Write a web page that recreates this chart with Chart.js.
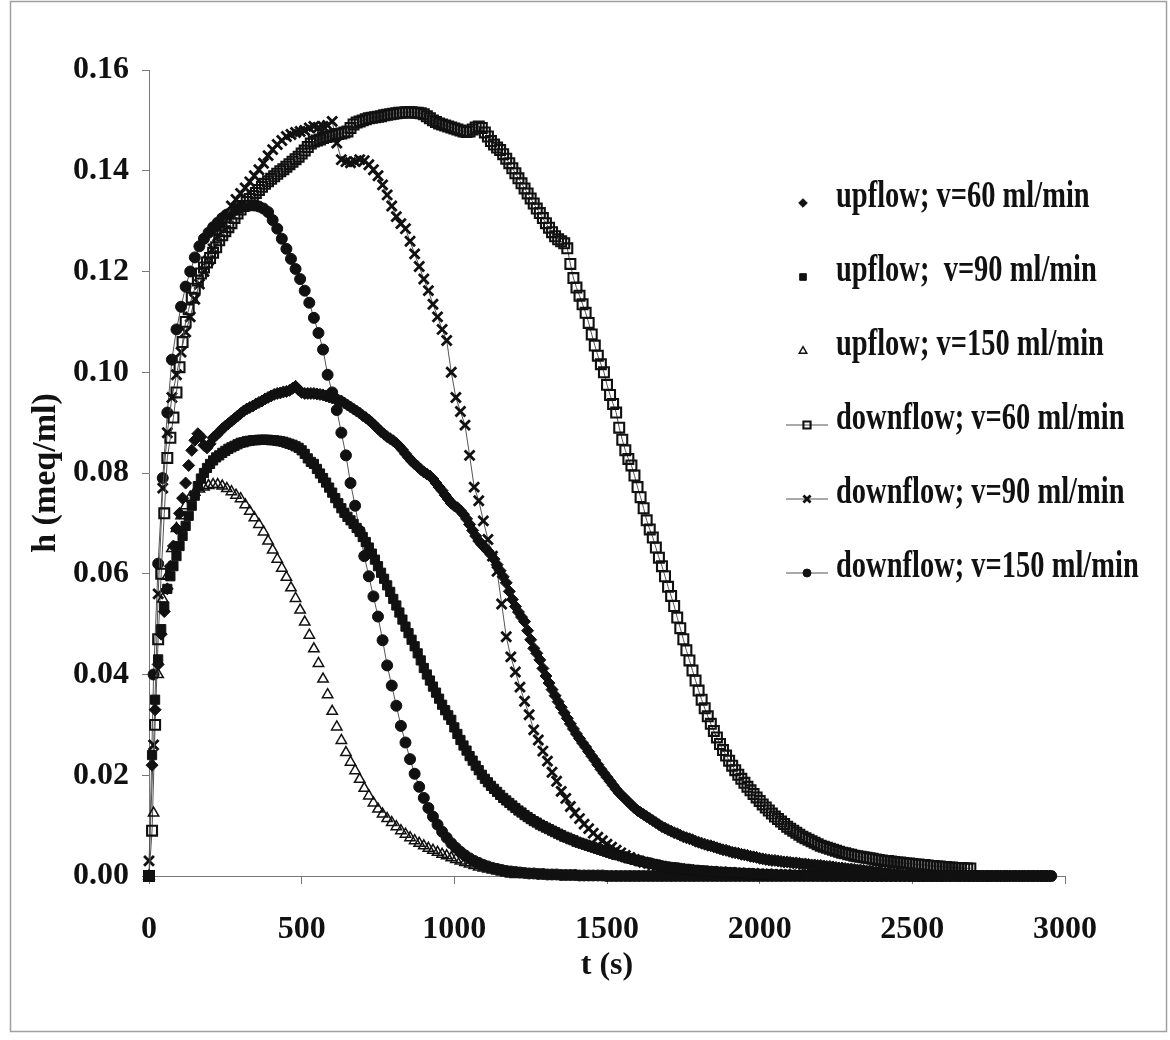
<!DOCTYPE html>
<html>
<head>
<meta charset="utf-8">
<title>h (meq/ml) vs t (s)</title>
<script src="https://cdn.jsdelivr.net/npm/chart.js@4.4.1/dist/chart.umd.min.js"></script>
<style>
  html, body { margin: 0; padding: 0; background: #fff; }
  #canvas { display: block; }
</style>
</head>
<body>
<canvas id="canvas" width="1170" height="1040"></canvas>
<script>
const canvas = document.getElementById("canvas");

// sampling interval of each run (s)
const stepUp60 = 10;
const stepUp90 = 10;
const stepUp150 = 15;
const stepDown60 = 10;
const stepDown90 = 15;
const stepDown150 = 15;

// h (meq/ml), one value per sample, starting at t = 0
const upflow60 = [
  0, 0.022, 0.033, 0.042, 0.048, 0.0525, 0.057, 0.0615, 0.0655, 0.069,
  0.072, 0.075, 0.078, 0.0815, 0.0845, 0.0865, 0.0878, 0.0872, 0.0855, 0.085,
  0.0858, 0.087, 0.0875, 0.0881, 0.0888, 0.0893, 0.0898, 0.0903, 0.0908, 0.0913,
  0.0918, 0.0923, 0.0927, 0.093, 0.0933, 0.0937, 0.094, 0.0943, 0.0947, 0.095,
  0.0953, 0.0956, 0.0958, 0.0959, 0.0961, 0.0962, 0.0964, 0.0968, 0.0972, 0.0965,
  0.096, 0.0958, 0.0958, 0.0958, 0.0958, 0.0957, 0.0956, 0.0955, 0.0953, 0.0951,
  0.0949, 0.0947, 0.0945, 0.0943, 0.0939, 0.0935, 0.0931, 0.0927, 0.0923, 0.0919,
  0.0914, 0.091, 0.0905, 0.09, 0.0894, 0.0888, 0.0882, 0.0877, 0.0872, 0.0868,
  0.0864, 0.0859, 0.0853, 0.0846, 0.0838, 0.0831, 0.0824, 0.0818, 0.0813, 0.0807,
  0.0802, 0.0798, 0.0794, 0.0788, 0.078, 0.0772, 0.0765, 0.0756, 0.0748, 0.074,
  0.0735, 0.0731, 0.0725, 0.0718, 0.0709, 0.0698, 0.0686, 0.0675, 0.0665, 0.0658,
  0.0652, 0.0645, 0.0638, 0.0629, 0.0618, 0.0606, 0.0594, 0.0582, 0.0565, 0.0549,
  0.0535, 0.0524, 0.0514, 0.0505, 0.0487, 0.0469, 0.0452, 0.0442, 0.0429, 0.0412,
  0.0397, 0.0383, 0.037, 0.0358, 0.0346, 0.0335, 0.0324, 0.0313, 0.0302, 0.0292,
  0.0282, 0.0273, 0.0264, 0.0256, 0.0247, 0.0238, 0.023, 0.0221, 0.0212, 0.0204,
  0.0196, 0.0188, 0.018, 0.0172, 0.0165, 0.0159, 0.0153, 0.0147, 0.0141, 0.0135,
  0.013, 0.0126, 0.0122, 0.0118, 0.0114, 0.011, 0.0106, 0.0102, 0.0098, 0.0095,
  0.0092, 0.0089, 0.0086, 0.0084, 0.0081, 0.0078, 0.0076, 0.0074, 0.0072, 0.0069,
  0.0067, 0.0065, 0.0063, 0.0061, 0.006, 0.0058, 0.0056, 0.0054, 0.0052, 0.0051,
  0.0049, 0.0047, 0.0046, 0.0045, 0.0043, 0.0042, 0.0041, 0.0039, 0.0038, 0.0037,
  0.0035, 0.0034, 0.0033, 0.0032, 0.0031, 0.0031, 0.003, 0.0029, 0.0028, 0.0028,
  0.0027, 0.0026, 0.0026, 0.0025, 0.0024, 0.0024, 0.0023, 0.0022, 0.0022, 0.0021,
  0.0021, 0.002, 0.0019, 0.0019, 0.0018, 0.0017, 0.0016, 0.0016, 0.0015, 0.0014,
  0.0014, 0.0013, 0.0012, 0.0012, 0.0011, 0.001, 0.001, 0.0009, 0.0008, 0.0008,
  0.0007, 0.0006, 0.0006, 0.0005, 0.0004, 0.0004, 0.0003, 0.0002, 0.0002, 0.0001,
  0, 0, 0, 0, 0, 0, 0, 0, 0, 0,
  0, 0, 0, 0, 0, 0, 0, 0, 0, 0,
  0, 0, 0, 0, 0, 0, 0, 0, 0, 0,
  0, 0, 0, 0, 0, 0, 0, 0, 0, 0,
  0, 0, 0, 0, 0, 0
];

const upflow90 = [
  0, 0.024, 0.035, 0.043, 0.049, 0.0535, 0.057, 0.0595, 0.0615, 0.0635,
  0.0655, 0.0675, 0.0695, 0.0715, 0.0735, 0.0755, 0.0774, 0.0789, 0.08, 0.081,
  0.0818, 0.0825, 0.0831, 0.0835, 0.084, 0.0844, 0.0848, 0.0851, 0.0854, 0.0857,
  0.086, 0.0861, 0.0863, 0.0864, 0.0865, 0.0865, 0.0866, 0.0866, 0.0866, 0.0866,
  0.0865, 0.0865, 0.0864, 0.0863, 0.0862, 0.086, 0.0858, 0.0856, 0.0853, 0.085,
  0.0845, 0.0838, 0.0829, 0.0822, 0.0818, 0.0808, 0.0799, 0.079, 0.0781, 0.0771,
  0.0761, 0.075, 0.074, 0.073, 0.0721, 0.0713, 0.0706, 0.0699, 0.0691, 0.0683,
  0.0673, 0.0663, 0.0652, 0.064, 0.0628, 0.0615, 0.0602, 0.059, 0.0577, 0.0564,
  0.055, 0.0537, 0.0523, 0.0509, 0.0495, 0.0482, 0.0469, 0.0456, 0.0442, 0.0428,
  0.0413, 0.04, 0.0388, 0.0376, 0.0364, 0.0352, 0.034, 0.0329, 0.0319, 0.031,
  0.0295, 0.0282, 0.027, 0.0259, 0.0249, 0.0238, 0.0229, 0.0219, 0.021, 0.0201,
  0.0193, 0.0186, 0.0179, 0.0173, 0.0167, 0.0161, 0.0155, 0.015, 0.0145, 0.014,
  0.0135, 0.013, 0.0126, 0.0121, 0.0117, 0.0113, 0.0109, 0.0106, 0.0102, 0.0099,
  0.0096, 0.0093, 0.009, 0.0087, 0.0084, 0.0081, 0.0078, 0.0076, 0.0073, 0.0071,
  0.0068, 0.0066, 0.0064, 0.0062, 0.006, 0.0058, 0.0056, 0.0054, 0.0052, 0.005,
  0.0048, 0.0046, 0.0044, 0.0042, 0.0041, 0.0039, 0.0037, 0.0035, 0.0034, 0.0032,
  0.0031, 0.0029, 0.0028, 0.0027, 0.0025, 0.0024, 0.0023, 0.0021, 0.002, 0.0019,
  0.0018, 0.0017, 0.0017, 0.0016, 0.0015, 0.0014, 0.0014, 0.0013, 0.0012, 0.0012,
  0.0011, 0.0011, 0.001, 0.001, 0.0009, 0.0009, 0.0008, 0.0008, 0.0008, 0.0007,
  0.0007, 0.0007, 0.0006, 0.0006, 0.0006, 0.0005, 0.0005, 0.0005, 0.0004, 0.0004,
  0.0004, 0.0003, 0.0003, 0.0003, 0.0003, 0.0002, 0.0002, 0.0002, 0.0002, 0.0002,
  0.0002, 0.0001, 0.0001, 0.0001, 0.0001, 0.0001, 0.0001, 0.0001, 0.0001, 0.0001,
  0, 0, 0, 0, 0, 0, 0, 0, 0, 0,
  0, 0, 0, 0, 0, 0, 0, 0, 0, 0,
  0, 0, 0, 0, 0, 0, 0, 0, 0, 0,
  0, 0, 0, 0, 0, 0, 0, 0, 0, 0,
  0, 0, 0, 0, 0, 0, 0, 0, 0, 0,
  0, 0, 0, 0, 0, 0, 0, 0, 0, 0,
  0, 0, 0, 0, 0, 0, 0, 0, 0, 0,
  0, 0, 0, 0, 0, 0
];

const upflow150 = [
  0, 0.0125, 0.04, 0.055, 0.0595, 0.065, 0.069, 0.0715, 0.0735, 0.0752,
  0.0762, 0.0768, 0.0772, 0.0775, 0.0777, 0.0777, 0.0774, 0.0769, 0.0763, 0.0756,
  0.0749, 0.0737, 0.0724, 0.0711, 0.0698, 0.0683, 0.0665, 0.0647, 0.0629, 0.0611,
  0.0593, 0.0572, 0.0551, 0.0528, 0.0504, 0.0478, 0.0451, 0.0422, 0.0391, 0.036,
  0.0327, 0.0296, 0.0269, 0.0245, 0.0226, 0.0209, 0.0192, 0.0174, 0.0159, 0.0145,
  0.0133, 0.0123, 0.0114, 0.0106, 0.0098, 0.009, 0.0083, 0.0076, 0.007, 0.0065,
  0.006, 0.0055, 0.0051, 0.0047, 0.0043, 0.004, 0.0036, 0.0033, 0.003, 0.0027,
  0.0024, 0.0021, 0.0018, 0.0016, 0.0014, 0.0012, 0.001, 0.0008, 0.0006, 0.0004,
  0.0003
];

const downflow60 = [
  0, 0.009, 0.03, 0.047, 0.06, 0.072, 0.083, 0.087, 0.091, 0.096,
  0.101, 0.106, 0.11, 0.1125, 0.1148, 0.1166, 0.1182, 0.1196, 0.1208, 0.1218,
  0.1227, 0.1237, 0.1248, 0.1262, 0.1272, 0.128, 0.1288, 0.1296, 0.1306, 0.1315,
  0.1323, 0.133, 0.1338, 0.1344, 0.135, 0.1356, 0.1362, 0.1368, 0.1374, 0.1379,
  0.1384, 0.1389, 0.1394, 0.1399, 0.1403, 0.1408, 0.1413, 0.1418, 0.1423, 0.1428,
  0.1434, 0.144, 0.1447, 0.1454, 0.1458, 0.146, 0.1462, 0.1465, 0.1467, 0.1468,
  0.147, 0.1472, 0.1473, 0.1474, 0.1476, 0.1478, 0.1485, 0.1492, 0.1496, 0.1498,
  0.15, 0.1502, 0.1504, 0.1505, 0.1506, 0.1507, 0.1508, 0.151, 0.1511, 0.1512,
  0.1513, 0.1514, 0.1515, 0.1515, 0.1516, 0.1516, 0.1516, 0.1515, 0.1515, 0.1514,
  0.1512, 0.1508, 0.1504, 0.15, 0.1497, 0.1494, 0.1492, 0.149, 0.1488, 0.1486,
  0.1484, 0.1482, 0.148, 0.1478, 0.1477, 0.1478, 0.1482, 0.1486, 0.1488, 0.1485,
  0.1476, 0.1468, 0.1459, 0.1452, 0.1446, 0.1441, 0.1433, 0.1424, 0.1415, 0.1405,
  0.1395, 0.1385, 0.1375, 0.1365, 0.1355, 0.1345, 0.1335, 0.1325, 0.1316, 0.1306,
  0.1296, 0.1287, 0.1278, 0.127, 0.1264, 0.126, 0.1256, 0.1246, 0.1215, 0.1187,
  0.1168, 0.1152, 0.1135, 0.1118, 0.1098, 0.1075, 0.1053, 0.1033, 0.1016, 0.1,
  0.0975, 0.0955, 0.0937, 0.092, 0.089, 0.0866, 0.0845, 0.0828, 0.0815, 0.0795,
  0.0772, 0.0752, 0.073, 0.0706, 0.0688, 0.0672, 0.0652, 0.0632, 0.0615, 0.0595,
  0.0574, 0.0556, 0.0536, 0.0513, 0.0492, 0.047, 0.0448, 0.0428, 0.0408, 0.0388,
  0.0368, 0.035, 0.0333, 0.0317, 0.0302, 0.0288, 0.0275, 0.0262, 0.025, 0.0239,
  0.0229, 0.0219, 0.021, 0.0201, 0.0193, 0.0185, 0.0177, 0.017, 0.0163, 0.0156,
  0.0149, 0.0142, 0.0136, 0.013, 0.0124, 0.0118, 0.0113, 0.0108, 0.0103, 0.0098,
  0.0094, 0.009, 0.0086, 0.0082, 0.0078, 0.0075, 0.0072, 0.0069, 0.0066, 0.0063,
  0.006, 0.0058, 0.0056, 0.0054, 0.0052, 0.005, 0.0048, 0.0046, 0.0045, 0.0043,
  0.0042, 0.004, 0.0039, 0.0038, 0.0037, 0.0036, 0.0035, 0.0034, 0.0033, 0.0032,
  0.0031, 0.003, 0.003, 0.0029, 0.0028, 0.0027, 0.0027, 0.0026, 0.0025, 0.0025,
  0.0024, 0.0023, 0.0023, 0.0022, 0.0022, 0.0021, 0.002, 0.002, 0.0019, 0.0019,
  0.0018, 0.0018, 0.0017, 0.0017, 0.0016, 0.0016, 0.0016, 0.0015, 0.0015, 0.0015
];

const downflow90 = [
  0.003, 0.026, 0.056, 0.077, 0.088, 0.095, 0.0995, 0.104, 0.108, 0.111,
  0.1145, 0.1175, 0.12, 0.1222, 0.1245, 0.127, 0.129, 0.131, 0.133, 0.1343,
  0.1355, 0.1366, 0.1378, 0.139, 0.1402, 0.1415, 0.143, 0.1442, 0.1452, 0.146,
  0.1468, 0.1472, 0.1476, 0.1478, 0.148, 0.1485, 0.1488, 0.1486, 0.1488, 0.149,
  0.1498, 0.1455, 0.1422, 0.1418, 0.1416, 0.1418, 0.1422, 0.142, 0.1412, 0.1402,
  0.139, 0.1372, 0.1352, 0.133, 0.1309, 0.1295, 0.1285, 0.126, 0.1235, 0.121,
  0.1185, 0.1162, 0.1135, 0.111, 0.1085, 0.1063, 0.1, 0.095, 0.0922, 0.0895,
  0.0835, 0.0772, 0.0745, 0.0705, 0.0668, 0.0635, 0.0605, 0.054, 0.0475, 0.0435,
  0.0405, 0.0375, 0.0347, 0.032, 0.029, 0.027, 0.0248, 0.0228, 0.0206, 0.0188,
  0.0168, 0.0154, 0.0138, 0.0125, 0.0114, 0.0103, 0.0094, 0.0085, 0.0077, 0.007,
  0.0063, 0.0057, 0.0051, 0.0046, 0.0041, 0.0037, 0.0033, 0.003, 0.0027, 0.0025,
  0.0022, 0.002, 0.0019, 0.0017, 0.0016, 0.0015, 0.0014, 0.0013, 0.0012, 0.0011,
  0.001, 0.001, 0.0009, 0.0009, 0.0008, 0.0008, 0.0007, 0.0007, 0.0006, 0.0006,
  0.0005, 0.0005, 0.0005, 0.0004, 0.0004, 0.0004, 0.0003, 0.0003, 0.0003, 0.0003,
  0.0002, 0.0002, 0.0002, 0.0002, 0.0002, 0.0001, 0.0001, 0.0001, 0.0001, 0.0001,
  0.0001, 0.0001, 0, 0, 0, 0, 0, 0, 0, 0,
  0, 0, 0, 0, 0, 0, 0, 0, 0, 0,
  0, 0, 0, 0, 0, 0, 0, 0, 0, 0,
  0, 0, 0, 0, 0, 0, 0
];

const downflow150 = [
  0, 0.04, 0.062, 0.079, 0.092, 0.1025, 0.1085, 0.113, 0.117, 0.12,
  0.1228, 0.125, 0.1265, 0.1277, 0.1288, 0.1297, 0.1306, 0.1313, 0.1318, 0.1323,
  0.1327, 0.133, 0.1331, 0.1331, 0.1329, 0.1325, 0.1318, 0.1302, 0.1285, 0.1265,
  0.1245, 0.1225, 0.1205, 0.1185, 0.1162, 0.1138, 0.1108, 0.1078, 0.1045, 0.0995,
  0.096, 0.0925, 0.088, 0.0835, 0.078, 0.0735, 0.0685, 0.0635, 0.0595, 0.0555,
  0.0515, 0.0468, 0.0418, 0.0378, 0.0338, 0.0298, 0.0265, 0.0232, 0.0203, 0.0177,
  0.0155, 0.0135, 0.0118, 0.0102, 0.0088, 0.0076, 0.0065, 0.0056, 0.0048, 0.0041,
  0.0035, 0.003, 0.0026, 0.0022, 0.0019, 0.0016, 0.0014, 0.0012, 0.001, 0.0009,
  0.0008, 0.0007, 0.0006, 0.0005, 0.0005, 0.0004, 0.0004, 0.0003, 0.0003, 0.0003,
  0.0002, 0.0002, 0.0002, 0.0002, 0.0001, 0.0001, 0.0001, 0.0001, 0.0001, 0.0001,
  0, 0, 0, 0, 0, 0, 0, 0, 0, 0,
  0, 0, 0, 0, 0, 0, 0, 0, 0, 0,
  0, 0, 0, 0, 0, 0, 0, 0, 0, 0,
  0, 0, 0, 0, 0, 0, 0, 0, 0, 0,
  0, 0, 0, 0, 0, 0, 0, 0, 0, 0,
  0, 0, 0, 0, 0, 0, 0, 0, 0, 0,
  0, 0, 0, 0, 0, 0, 0, 0, 0, 0,
  0, 0, 0, 0, 0, 0, 0, 0, 0, 0,
  0, 0, 0, 0, 0, 0, 0, 0, 0, 0,
  0, 0, 0, 0, 0, 0, 0, 0
];

const seriesNames = [
  "upflow; v=60 ml/min",
  "upflow;  v=90 ml/min",
  "upflow; v=150 ml/min",
  "downflow; v=60 ml/min",
  "downflow; v=90 ml/min",
  "downflow; v=150 ml/min"
];

const tMax = 3000;
const tStep = 500;
const hMax = 0.16;
const hStep = 0.02;

const serif = "'Liberation Serif', 'Times New Roman', serif";
const ink = "#111";
const hollow = "rgba(0,0,0,0)";

function toPoints(values, step) {
  return values.map((h, i) => ({ x: i * step, y: h }));
}

// white page with the thin grey frame round it
const pageFrame = {
  id: "pageFrame",
  beforeDraw(chart) {
    const ctx = chart.ctx;
    ctx.save();
    ctx.fillStyle = "#fff";
    ctx.fillRect(0, 0, chart.width, chart.height);
    ctx.restore();
  },
  afterDraw(chart) {
    const ctx = chart.ctx;
    ctx.save();
    ctx.strokeStyle = "#a0a0a0";
    ctx.lineWidth = 1.5;
    ctx.strokeRect(10.5, 1.5, 1156, 1030);
    ctx.restore();
  }
};

// legend rows sitting inside the plot, at the right
const sideLegend = {
  id: "sideLegend",
  afterDatasetsDraw(chart) {
    const ctx = chart.ctx;
    chart.data.datasets.forEach((ds, i) => {
      const base = 207 + i * 74;
      const my = base - 4;
      ctx.save();
      if (ds.showLine) {
        ctx.strokeStyle = ds.borderColor;
        ctx.lineWidth = 1;
        ctx.beginPath();
        ctx.moveTo(786, my);
        ctx.lineTo(828, my);
        ctx.stroke();
      }
      ctx.fillStyle = ds.pointBackgroundColor;
      ctx.strokeStyle = ds.pointBorderColor;
      ctx.lineWidth = ds.pointBorderWidth;
      Chart.helpers.drawPoint(ctx, {
        pointStyle: ds.pointStyle,
        radius: ds.pointRadius * 0.72,
        borderWidth: ds.pointBorderWidth,
        rotation: 0
      }, ds.showLine ? 807 : 803, my);
      ctx.restore();

      ctx.save();
      ctx.translate(836, base);
      ctx.scale(0.77, 1);
      ctx.font = "bold 37px " + serif;
      ctx.fillStyle = ink;
      ctx.textBaseline = "alphabetic";
      ctx.fillText(ds.label, 0, 0);
      ctx.restore();
    });
  }
};

const datasets = [
  {
    label: seriesNames[0],
    data: toPoints(upflow60, stepUp60),
    showLine: false,
    pointStyle: "rectRot",
    pointRadius: 6,
    pointBackgroundColor: ink,
    pointBorderColor: ink,
    pointBorderWidth: 1
  },
  {
    label: seriesNames[1],
    data: toPoints(upflow90, stepUp90),
    showLine: false,
    pointStyle: "rect",
    pointRadius: 6.5,
    pointBackgroundColor: ink,
    pointBorderColor: ink,
    pointBorderWidth: 1
  },
  {
    label: seriesNames[2],
    data: toPoints(upflow150, stepUp150),
    showLine: false,
    pointStyle: "triangle",
    pointRadius: 6,
    pointBackgroundColor: hollow,
    pointBorderColor: ink,
    pointBorderWidth: 1.5
  },
  {
    label: seriesNames[3],
    data: toPoints(downflow60, stepDown60),
    showLine: true,
    borderColor: "#555",
    borderWidth: 1,
    pointStyle: "rect",
    pointRadius: 7,
    pointBackgroundColor: hollow,
    pointBorderColor: ink,
    pointBorderWidth: 2.1
  },
  {
    label: seriesNames[4],
    data: toPoints(downflow90, stepDown90),
    showLine: true,
    borderColor: "#555",
    borderWidth: 1,
    pointStyle: "crossRot",
    pointRadius: 7,
    pointBackgroundColor: ink,
    pointBorderColor: ink,
    pointBorderWidth: 2.8
  },
  {
    label: seriesNames[5],
    data: toPoints(downflow150, stepDown150),
    showLine: true,
    borderColor: "#555",
    borderWidth: 1,
    pointStyle: "circle",
    pointRadius: 5.5,
    pointBackgroundColor: ink,
    pointBorderColor: ink,
    pointBorderWidth: 1
  }
];
datasets.forEach(ds => { ds.clip = false; ds.tension = 0; });

const myChart = new Chart(canvas, {
  type: "scatter",
  data: { datasets: datasets },
  options: {
    responsive: false,
    animation: false,
    events: [],
    layout: { padding: { left: 0, top: 70, right: 105, bottom: 0 } },
    plugins: {
      legend: { display: false },
      tooltip: { enabled: false }
    },
    scales: {
      x: {
        type: "linear",
        min: 0,
        max: tMax,
        afterFit(scale) { scale.height = 164; },
        ticks: {
          stepSize: tStep,
          padding: 27,
          color: ink,
          font: { family: serif, size: 32, weight: "bold" },
          callback: v => String(v)
        },
        grid: { display: true, drawOnChartArea: false, drawTicks: true, tickLength: 8, color: "#777" },
        border: { display: true, color: "#777", width: 1 },
        title: {
          display: true,
          text: "t (s)",
          color: ink,
          font: { family: serif, size: 32, weight: "bold" },
          padding: { top: 0, bottom: 55 }
        }
      },
      y: {
        type: "linear",
        min: 0,
        max: hMax,
        afterFit(scale) { scale.width = 149; },
        ticks: {
          stepSize: hStep,
          padding: 13,
          color: ink,
          font: { family: serif, size: 32, weight: "bold" },
          callback: v => v.toFixed(2)
        },
        grid: { display: true, drawOnChartArea: false, drawTicks: true, tickLength: 7, color: "#777" },
        border: { display: true, color: "#777", width: 1 },
        title: {
          display: true,
          text: "h (meq/ml)",
          color: ink,
          font: { family: serif, size: 34, weight: "bold" },
          padding: { top: 26, bottom: 0 }
        }
      }
    }
  },
  plugins: [pageFrame, sideLegend]
});
</script>
</body>
</html>
